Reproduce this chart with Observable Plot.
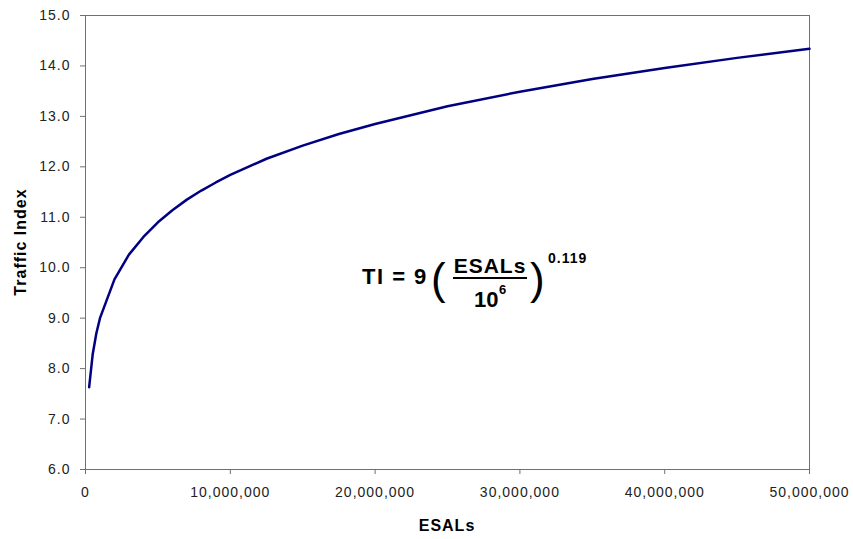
<!DOCTYPE html>
<html>
<head>
<meta charset="utf-8">
<script src="https://cdn.jsdelivr.net/npm/d3@7"></script>
<script src="https://cdn.jsdelivr.net/npm/@observablehq/plot@0.6"></script>
<style>
  html, body { margin: 0; padding: 0; background: #fff; }
  #chart { width: 853px; height: 539px; }
</style>
</head>
<body>
<div id="chart"></div>
<script>
// Data
const esals = [250000, 500000, 750000, 1000000, 2000000, 3000000, 4000000, 5000000, 6000000, 7000000, 8000000, 9000000, 10000000, 12500000, 15000000, 17500000, 20000000, 25000000, 30000000, 35000000, 40000000, 45000000, 50000000];
const trafficIndex = [7.63, 8.29, 8.70, 9.00, 9.77, 10.26, 10.61, 10.90, 11.14, 11.35, 11.53, 11.69, 11.84, 12.16, 12.42, 12.65, 12.85, 13.20, 13.49, 13.74, 13.96, 14.16, 14.34];
const xTicks = [0, 10000000, 20000000, 30000000, 40000000, 50000000];
const yTicks = [6, 7, 8, 9, 10, 11, 12, 13, 14, 15];
const xTitle = "ESALs";
const yTitle = "Traffic Index";

const data = esals.map((e, i) => ({esal: e, ti: trafficIndex[i]}));

const W = 853, H = 539, mL = 85, mR = 44, mT = 15, mB = 70;

const chart = Plot.plot({
  width: W, height: H,
  marginLeft: mL, marginRight: mR, marginTop: mT, marginBottom: mB,
  style: {fontFamily: "'Liberation Sans', Arial, sans-serif", background: "#fff", overflow: "visible"},
  x: {domain: [0, 50000000]},
  y: {domain: [6, 15]},
  marks: [
    Plot.frame({stroke: "#707070", strokeWidth: 1}),
    Plot.axisX({ticks: xTicks, tickFormat: d3.format(","), tickSize: 5, tickPadding: 13, fontSize: 14, label: null}),
    Plot.axisY({ticks: yTicks, tickFormat: d3.format(".1f"), tickSize: 5, tickPadding: 10, fontSize: 14, label: null}),
    Plot.line(data, {x: "esal", y: "ti", stroke: "#000080", strokeWidth: 2.5})
  ]
});
document.getElementById("chart").appendChild(chart);

const svg = d3.select(chart);
svg.selectAll("g[aria-label='x-axis tick'] path, g[aria-label='y-axis tick'] path").attr("stroke", "#707070");
svg.selectAll("g[aria-label='x-axis tick label'], g[aria-label='y-axis tick label']")
  .attr("fill", "#222").style("letter-spacing", "1px");

const font = "'Liberation Sans', Arial, sans-serif";
// Axis titles
svg.append("text").attr("x", (mL + W - mR) / 2).attr("y", 531)
  .attr("text-anchor", "middle").attr("font-family", font).attr("font-size", 16)
  .attr("font-weight", "bold").style("letter-spacing", "1px").attr("fill", "#000").text(xTitle);
svg.append("text").attr("transform", `translate(26,${(mT + H - mB) / 2}) rotate(-90)`)
  .attr("text-anchor", "middle").attr("font-family", font).attr("font-size", 16)
  .attr("font-weight", "bold").style("letter-spacing", "1px").attr("fill", "#000").text(yTitle);

// Equation annotation
const eq = svg.append("g").attr("font-family", font).attr("fill", "#000").attr("text-anchor", "start");
eq.append("text").attr("x", 362).attr("y", 284).attr("font-size", 22).attr("font-weight", "bold")
  .style("letter-spacing", "1.5px").text("TI = 9");
eq.append("text").attr("x", 431).attr("y", 294).attr("font-size", 44).text("(");
eq.append("text").attr("x", 530).attr("y", 294).attr("font-size", 44).text(")");
eq.append("text").attr("x", 490).attr("y", 273).attr("font-size", 21).attr("font-weight", "bold")
  .attr("text-anchor", "middle").style("letter-spacing", "1px").text("ESALs");
eq.append("line").attr("x1", 453).attr("x2", 527).attr("y1", 278).attr("y2", 278)
  .attr("stroke", "#000").attr("stroke-width", 2);
eq.append("text").attr("x", 474).attr("y", 307).attr("font-size", 22).attr("font-weight", "bold").text("10");
eq.append("text").attr("x", 499).attr("y", 294).attr("font-size", 13).attr("font-weight", "bold").text("6");
eq.append("text").attr("x", 548).attr("y", 263).attr("font-size", 14).attr("font-weight", "bold")
  .style("letter-spacing", "1px").text("0.119");
</script>
</body>
</html>
